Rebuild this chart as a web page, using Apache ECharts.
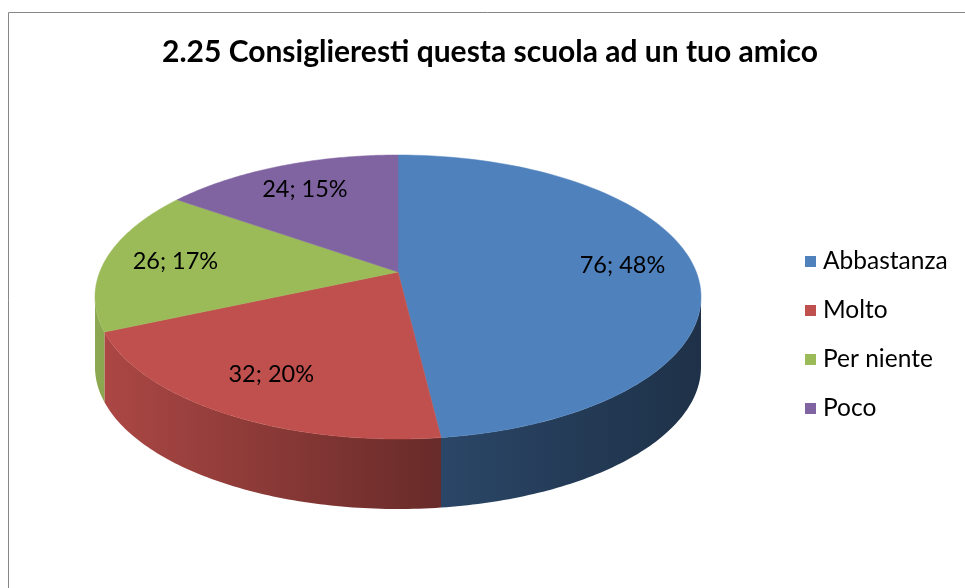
<!DOCTYPE html>
<html>
<head>
<meta charset="utf-8">
<script src="https://cdn.jsdelivr.net/npm/echarts@6/dist/echarts.min.js"></script>
<style>
  html, body { margin: 0; padding: 0; background: #fff; }
  #chart { width: 965px; height: 588px; }
</style>
</head>
<body>
<div id="chart"></div>
<script>
const titleText = '2.25 Consiglieresti questa scuola ad un tuo amico'
const categories = ['Abbastanza', 'Molto', 'Per niente', 'Poco']
const values = [76, 32, 26, 24]
const colors = ['#4F81BD', '#C0504D', '#9BBB59', '#8064A2']

const chart = echarts.init(document.getElementById('chart'))
const total = values.reduce((a, b) => a + b, 0)

// percentuali intere che sommano a 100 (metodo dei resti maggiori)
const percents = (() => {
  const raw = values.map(v => v / total * 100)
  const out = raw.map(Math.floor)
  let left = 100 - out.reduce((a, b) => a + b, 0)
  raw.map((r, i) => [r - Math.floor(r), i])
    .sort((a, b) => b[0] - a[0])
    .forEach(([, i]) => { if (left > 0) { out[i]++; left-- } })
  return out
})()

// torta 3D: ellisse vista in prospettiva (tilt sposta il centro verso l'alto)
const pie = { cx: 398, cy: 297, rx: 303, ry: 142, tilt: 0.176, depth: 70, labelR: 0.76 }

const project = (r, theta) => {
  const a = r * Math.sin(theta)
  const b = r * Math.cos(theta)
  const k = 1 + pie.tilt * b
  const u = a * Math.sqrt(1 - pie.tilt * pie.tilt) / k
  const v = (b + pie.tilt) / k
  return [pie.cx + pie.rx * u, pie.cy - pie.ry * v]
}

// angolo sul bordo dell'ellisse corrispondente a theta
const rimAngle = (theta) => {
  if (theta >= 2 * Math.PI - 1e-9) return 2 * Math.PI
  const p = project(1, theta)
  let phi = Math.atan2((p[0] - pie.cx) / pie.rx, (pie.cy - p[1]) / pie.ry)
  if (phi < 0) phi += 2 * Math.PI
  return phi
}

const shade = (hex, f) => {
  const n = parseInt(hex.slice(1), 16)
  const r = Math.round(((n >> 16) & 255) * f)
  const g = Math.round(((n >> 8) & 255) * f)
  const b = Math.round((n & 255) * f)
  return `rgb(${r},${g},${b})`
}

const renderSlice = (i) => (params, api) => {
  const before = values.slice(0, i).reduce((a, b) => a + b, 0)
  const start = before / total * 2 * Math.PI
  const end = (before + values[i]) / total * 2 * Math.PI
  const color = colors[i]
  const children = []

  // parete laterale (solo la parte frontale)
  const p0 = Math.max(rimAngle(start), Math.PI / 2)
  const p1 = Math.min(rimAngle(end), 3 * Math.PI / 2)
  if (p1 > p0) {
    const n = 80
    const topPts = []
    for (let k = 0; k <= n; k++) {
      const phi = p0 + (p1 - p0) * k / n
      topPts.push([pie.cx + pie.rx * Math.sin(phi), pie.cy - pie.ry * Math.cos(phi)])
    }
    const pts = topPts.concat(topPts.slice().reverse().map(p => [p[0], p[1] + pie.depth]))
    children.push({
      type: 'polygon',
      shape: { points: pts },
      style: {
        fill: new echarts.graphic.LinearGradient(pie.cx - pie.rx, 0, pie.cx + pie.rx, 0, [
          { offset: 0, color: shade(color, 0.9) },
          { offset: 0.55, color: shade(color, 0.55) },
          { offset: 1, color: shade(color, 0.38) }
        ], true),
        stroke: null
      }
    })
  }

  // faccia superiore
  const face = [project(0, 0)]
  const steps = 100
  for (let k = 0; k <= steps; k++) {
    face.push(project(1, start + (end - start) * k / steps))
  }
  children.push({
    type: 'polygon',
    shape: { points: face },
    style: { fill: color, stroke: color, lineWidth: 0.5 }
  })

  // etichetta valore; percentuale
  const mid = (start + end) / 2
  const lp = project(pie.labelR, mid)
  children.push({
    type: 'text',
    x: lp[0],
    y: lp[1],
    style: {
      text: `${values[i]}; ${percents[i]}%`,
      fontFamily: 'Lato',
      fontSize: 23.5,
      fill: '#000',
      align: 'center',
      verticalAlign: 'middle'
    }
  })

  return { type: 'group', children }
}

const option = {
  animation: false,
  color: colors,
  title: {
    text: titleText,
    left: 485,
    top: 32,
    textAlign: 'center',
    textStyle: { fontFamily: 'Lato', fontSize: 30, fontWeight: 'bold', color: '#000' }
  },
  legend: {
    orient: 'vertical',
    left: 800,
    top: 244,
    itemWidth: 11,
    itemHeight: 11,
    itemGap: 24,
    icon: 'rect',
    data: categories,
    textStyle: { fontFamily: 'Lato', fontSize: 24.5, color: '#000', padding: [0, 0, 0, 2] }
  },
  graphic: [
    {
      type: 'rect',
      shape: { x: 8.5, y: 12.5, width: 1000, height: 1000 },
      style: { fill: 'none', stroke: '#878787', lineWidth: 1 },
      silent: true
    }
  ],
  series: categories.map((name, i) => ({
    type: 'custom',
    name,
    coordinateSystem: 'none',
    renderItem: renderSlice(i),
    data: [values[i]]
  }))
}

chart.setOption(option)
window.addEventListener('resize', () => chart.resize())
</script>
</body>
</html>
